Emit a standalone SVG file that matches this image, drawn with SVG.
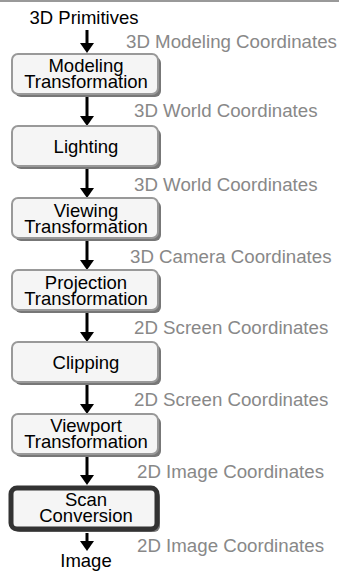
<svg xmlns="http://www.w3.org/2000/svg" width="339" height="571" viewBox="0 0 339 571">
<style>
text{font-family:"Liberation Sans",Arial,sans-serif;font-size:18.5px}
.t{fill:#000;text-anchor:middle}
.l{fill:#888;font-size:18.7px}
.sh{fill:#777}
.bx{fill:#f5f5f5;stroke:#999;stroke-width:2}
.bk{fill:#f5f5f5;stroke:#333;stroke-width:5}
.ar{stroke:#000;stroke-width:3;fill:none;marker-end:url(#ah)}
</style>
<defs>
<marker id="ah" viewBox="0 0 10 14" refX="2" refY="7" markerWidth="10" markerHeight="14" orient="auto" markerUnits="userSpaceOnUse">
<path d="M0,0L10,7L0,14z" fill="#000"/>
</marker>
</defs>
<line x1="0" y1="1" x2="339" y2="1" stroke="#999" stroke-width="2"/>
<g id="connectors">
<line class="ar" x1="87" y1="30" x2="87" y2="45"/>
<line class="ar" x1="87" y1="97" x2="87" y2="118"/>
<line class="ar" x1="87" y1="169" x2="87" y2="190"/>
<line class="ar" x1="87" y1="241" x2="87" y2="262"/>
<line class="ar" x1="87" y1="313" x2="87" y2="334"/>
<line class="ar" x1="87" y1="385" x2="87" y2="406"/>
<line class="ar" x1="87" y1="457" x2="87" y2="477"/>
<line class="ar" x1="87" y1="533" x2="87" y2="543"/>
</g>
<g id="labels">
<text class="l" x="126" y="48">3D Modeling Coordinates</text>
<text class="l" x="134" y="117">3D World Coordinates</text>
<text class="l" x="134" y="191">3D World Coordinates</text>
<text class="l" x="130" y="263">3D Camera Coordinates</text>
<text class="l" x="134" y="334">2D Screen Coordinates</text>
<text class="l" x="134" y="406">2D Screen Coordinates</text>
<text class="l" x="137" y="478">2D Image Coordinates</text>
<text class="l" x="137" y="552">2D Image Coordinates</text>
</g>
<g id="primitives"><text class="t" x="84" y="24">3D Primitives</text></g>
<g id="modeling">
<rect class="sh" x="15" y="57" width="146" height="40" rx="6"/>
<rect class="bx" x="12" y="54" width="146" height="40" rx="6"/>
<text class="t" x="86" y="72">Modeling</text>
<text class="t" x="86" y="88">Transformation</text>
</g>
<g id="lighting">
<rect class="sh" x="15" y="129" width="146" height="40" rx="6"/>
<rect class="bx" x="12" y="126" width="146" height="40" rx="6"/>
<text class="t" x="86" y="153">Lighting</text>
</g>
<g id="viewing">
<rect class="sh" x="15" y="201" width="146" height="40" rx="6"/>
<rect class="bx" x="12" y="198" width="146" height="40" rx="6"/>
<text class="t" x="86" y="217">Viewing</text>
<text class="t" x="86" y="233">Transformation</text>
</g>
<g id="projection">
<rect class="sh" x="15" y="273" width="146" height="40" rx="6"/>
<rect class="bx" x="12" y="270" width="146" height="40" rx="6"/>
<text class="t" x="86" y="289">Projection</text>
<text class="t" x="86" y="305">Transformation</text>
</g>
<g id="clipping">
<rect class="sh" x="15" y="345" width="146" height="40" rx="6"/>
<rect class="bx" x="12" y="342" width="146" height="40" rx="6"/>
<text class="t" x="86" y="369">Clipping</text>
</g>
<g id="viewport">
<rect class="sh" x="15" y="417" width="146" height="40" rx="6"/>
<rect class="bx" x="12" y="414" width="146" height="40" rx="6"/>
<text class="t" x="86" y="432">Viewport</text>
<text class="t" x="86" y="448">Transformation</text>
</g>
<g id="scan">
<rect class="sh" x="14" y="491" width="146" height="41" rx="6"/>
<rect class="bk" x="11" y="488" width="146" height="41" rx="6"/>
<text class="t" x="86" y="506">Scan</text>
<text class="t" x="86" y="522">Conversion</text>
</g>
<g id="image"><text class="t" x="86" y="567">Image</text></g>
</svg>
